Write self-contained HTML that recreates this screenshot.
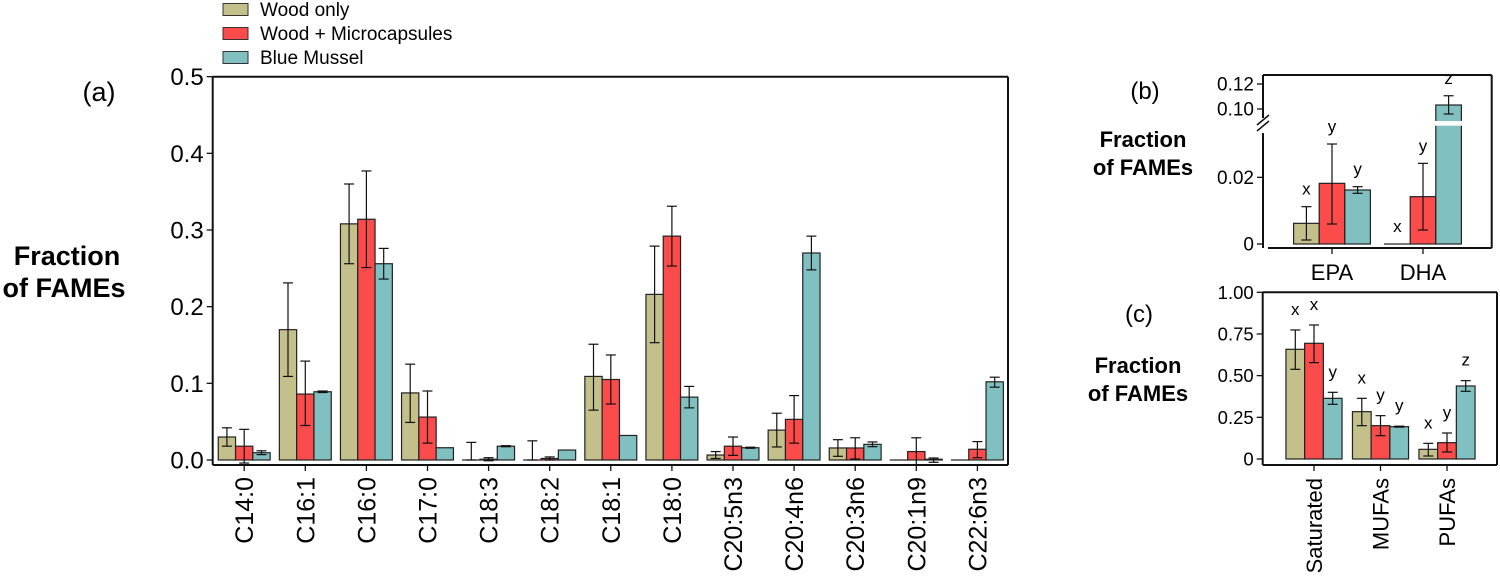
<!DOCTYPE html>
<html><head><meta charset="utf-8"><style>
html,body{margin:0;padding:0;background:#fff;}
svg{display:block;font-family:"Liberation Sans",Arial,sans-serif;}
</style></head><body>
<svg id="fig" width="1500" height="578" viewBox="0 0 1500 578">
<g>
 <rect x="223" y="3.5" width="25" height="12" fill="#c4c08c" stroke="#333"/>
 <text x="260" y="16" font-size="19">Wood only</text>
 <rect x="223" y="27.5" width="25" height="12" fill="#fb4b4b" stroke="#333"/>
 <text x="260" y="40" font-size="19">Wood + Microcapsules</text>
 <rect x="223" y="51.5" width="25" height="12" fill="#80c0c0" stroke="#333"/>
 <text x="260" y="64" font-size="19">Blue Mussel</text>
</g>
<text x="99" y="101" font-size="27" text-anchor="middle">(a)</text>
<text x="67" y="265" font-size="27" font-weight="bold" text-anchor="middle">Fraction</text>
<text x="64" y="297" font-size="27" font-weight="bold" text-anchor="middle">of FAMEs</text>
<text x="1145" y="99" font-size="24" text-anchor="middle">(b)</text>
<text x="1143" y="147" font-size="22" font-weight="bold" text-anchor="middle">Fraction</text>
<text x="1143" y="175" font-size="22" font-weight="bold" text-anchor="middle">of FAMEs</text>
<text x="1139" y="322" font-size="24" text-anchor="middle">(c)</text>
<text x="1138" y="373" font-size="22" font-weight="bold" text-anchor="middle">Fraction</text>
<text x="1138" y="401" font-size="22" font-weight="bold" text-anchor="middle">of FAMEs</text>
<g id="pa"></g>
<g id="pb"></g>
<g id="pc"></g>
</svg>
<script>
// Panel (a)
const catsA = ["C14:0","C16:1","C16:0","C17:0","C18:3","C18:2","C18:1","C18:0","C20:5n3","C20:4n6","C20:3n6","C20:1n9","C22:6n3"];
const woodA = [0.030,0.170,0.308,0.0875,0,0,0.109,0.216,0.0065,0.039,0.0157,0,0];
const woodAHi = [0.042,0.231,0.360,0.125,0.023,0.025,0.151,0.279,0.011,0.061,0.0265,0,0];
const woodALo = [0.018,0.109,0.256,0.049,0,0,0.065,0.153,0.002,0.017,0.0048,0,0];
const redA = [0.018,0.086,0.314,0.056,0.001,0.002,0.105,0.292,0.018,0.053,0.0157,0.011,0.014];
const redAHi = [0.040,0.129,0.377,0.090,0.003,0.004,0.137,0.331,0.030,0.084,0.029,0.029,0.024];
const redALo = [-0.004,0.045,0.251,0.022,-0.001,0,0.073,0.253,0.006,0.022,0.0013,-0.007,0.003];
const tealA = [0.0095,0.089,0.256,0.016,0.018,0.013,0.032,0.082,0.016,0.270,0.0204,0.001,0.102];
const tealAHi = [0.012,0.090,0.276,0.016,0.0187,0.013,0.032,0.096,0.0167,0.292,0.0235,0.0026,0.108];
const tealALo = [0.007,0.088,0.236,0.016,0.0173,0.013,0.032,0.068,0.0153,0.248,0.0174,-0.003,0.095];
const ticksA = [0,0.1,0.2,0.3,0.4,0.5];
const tickLabelsA = ["0.0","0.1","0.2","0.3","0.4","0.5"];
// Panel (b)
const catsB = ["EPA","DHA"];
const woodB = [0.0062,0];
const woodBHi = [0.0112,0];
const woodBLo = [0.0012,0];
const redB = [0.0182,0.0142];
const redBHi = [0.030,0.0242];
const redBLo = [0.006,0.0042];
const tealB = [0.0162,0.1032];
const tealBHi = [0.0172,0.1106];
const tealBLo = [0.0152,0.096];
const lettersB = [["x","y","y"],["x","y","z"]];
const ticksBLow = [0,0.02];
const tickLabelsBLow = ["0","0.02"];
const ticksBHigh = [0.10,0.12];
const tickLabelsBHigh = ["0.10","0.12"];
// Panel (c)
const catsC = ["Saturated","MUFAs","PUFAs"];
const woodC = [0.658,0.284,0.058];
const woodCHi = [0.774,0.364,0.094];
const woodCLo = [0.538,0.20,0.018];
const redC = [0.694,0.20,0.098];
const redCHi = [0.804,0.26,0.156];
const redCLo = [0.578,0.14,0.042];
const tealC = [0.364,0.194,0.438];
const tealCHi = [0.40,0.197,0.47];
const tealCLo = [0.328,0.191,0.406];
const lettersC = [["x","x","y"],["x","y","y"],["x","y","z"]];
const ticksC = [0,0.25,0.5,0.75,1.0];
const tickLabelsC = ["0","0.25","0.50","0.75","1.00"];

const NS="http://www.w3.org/2000/svg";
const COLORS=["#c4c08c","#fb4b4b","#80c0c0"];
const SNAMES=["wood-only","wood-microcapsules","blue-mussel"];
function mk(parent,tag,attrs,name){const e=document.createElementNS(NS,tag);for(const k in attrs)e.setAttribute(k,attrs[k]);


parent.appendChild(e);return e;}
function line(p,x1,y1,x2,y2,name,w){return mk(p,"line",{x1,y1,x2,y2,stroke:"#111","stroke-width":w||1.3},name);}
function txt(p,x,y,s,size,anchor,name,extra){const t=mk(p,"text",Object.assign({x,y,"font-size":size,"text-anchor":anchor||"middle"},extra||{}),name);t.textContent=s;return t;}
function errbar(p,x,yh,yl,name,cap){line(p,x,yh,x,yl,name+"-err",1.2);line(p,x-cap,yh,x+cap,yh,name+"-cap-hi",1.2);line(p,x-cap,yl,x+cap,yl,name+"-cap-lo",1.2);}

// ---- panel a
(function(){
 const g=document.getElementById("pa");
 const L=212.7,R=1008,T=76.7,B=465,y0=460,ppu=766.7;
 const y=v=>y0-v*ppu;
 const cx=i=>244.2+i*61.1;
 const bw=17.3;
 const series=[[woodA,woodAHi,woodALo],[redA,redAHi,redALo],[tealA,tealAHi,tealALo]];
 catsA.forEach((c,i)=>{
  series.forEach((s,k)=>{
   const x=cx(i)+(k-1)*bw;
   const v=s[0][i];
   const top=y(Math.max(v,0));
   const h=Math.max(y(0)-top,0);
   mk(g,"rect",{x:x-bw/2,y:top,width:bw,height:Math.max(h,0.01),fill:COLORS[k],stroke:"#222","stroke-width":1.2},"bar-"+SNAMES[k]+"-"+c);
   if(s[1][i]!==s[2][i]) errbar(g,x,y(s[1][i]),y(s[2][i]),"bar-"+SNAMES[k]+"-"+c,5);
  });
  line(g,cx(i),B,cx(i),B+6,"x-tick-"+c);
  txt(g,cx(i)+9,477,c,25,"end","x-label-"+c,{transform:`rotate(-90 ${cx(i)+9} 477)`});
 });
 line(g,L,T,L,B,"y-axis",2);
 line(g,L,B,R,B,"x-axis",2);
 line(g,L,T,R,T,"frame-top",2);
 line(g,R,T,R,B,"frame-right",2);
 ticksA.forEach((t,i)=>{line(g,L-6,y(t),L,y(t),"y-tick-"+tickLabelsA[i]);txt(g,L-9,y(t)+8.5,tickLabelsA[i],24,"end","y-tick-label-"+tickLabelsA[i]);});
})();

// ---- panel b (broken axis)
(function(){
 const g=document.getElementById("pb");
 const L=1263,R=1491.7,T=75,B=248;
 const y0=244,ppuLow=3333,brkY=127;
 const yHighRef=109,ppuHigh=1250;
 const y=v=>v<=0.035?y0-v*ppuLow:yHighRef-(v-0.10)*ppuHigh;
 const cx=i=>1332+i*91;
 const bw=25.6;
 const series=[[woodB,woodBHi,woodBLo],[redB,redBHi,redBLo],[tealB,tealBHi,tealBLo]];
 catsB.forEach((c,i)=>{
  series.forEach((s,k)=>{
   const x=cx(i)+(k-1)*bw;
   const v=s[0][i];
   const top=y(v);
   mk(g,"rect",{x:x-bw/2,y:top,width:bw,height:Math.max(y0-top,0.01),fill:COLORS[k],stroke:"#222","stroke-width":1.2},"bar-"+SNAMES[k]+"-"+c);
   if(v>0.035) mk(g,"rect",{x:x-bw/2-1,y:brkY-6,width:bw+2,height:4.7,fill:"#fff"},"axis-break-gap-"+c);
   if(s[1][i]!==s[2][i]) errbar(g,x,y(s[1][i]),y(s[2][i]),"bar-"+SNAMES[k]+"-"+c,5);
   txt(g,x-(k==0?0:0),y(Math.max(s[1][i],v))-12,lettersB[i][k],17,"middle","sig-letter-"+SNAMES[k]+"-"+c);
  });
  line(g,cx(i),B,cx(i),B+6,"x-tick-"+c);
  txt(g,cx(i),280,c,22,"middle","x-label-"+c);
 });
 line(g,L,T,L,brkY-9,"y-axis-upper",2);
 line(g,L,brkY+6,L,B,"y-axis-lower",2);
 line(g,L-6,brkY-2,L+6,brkY-12,"axis-break-mark-1",1.5);
 line(g,L-6,brkY+4,L+6,brkY-6,"axis-break-mark-2",1.5);
 line(g,L+5,B,R,B,"x-axis",2);
 line(g,L,T,R,T,"frame-top",2);
 line(g,R,T,R,B,"frame-right",2);
 ticksBLow.forEach((t,i)=>{line(g,L-6,y(t),L,y(t),"y-tick-"+tickLabelsBLow[i]);txt(g,L-9,y(t)+6.5,tickLabelsBLow[i],19,"end","y-tick-label-"+tickLabelsBLow[i]);});
 ticksBHigh.forEach((t,i)=>{line(g,L-6,y(t),L,y(t),"y-tick-"+tickLabelsBHigh[i]);txt(g,L-9,y(t)+6.5,tickLabelsBHigh[i],19,"end","y-tick-label-"+tickLabelsBHigh[i]);});
})();

// ---- panel c
(function(){
 const g=document.getElementById("pc");
 const L=1262.7,R=1497,T=292.3,B=465,y0=459,ppu=166.7;
 const y=v=>y0-v*ppu;
 const cx=i=>1314+i*66.5;
 const bw=18.7;
 const series=[[woodC,woodCHi,woodCLo],[redC,redCHi,redCLo],[tealC,tealCHi,tealCLo]];
 catsC.forEach((c,i)=>{
  series.forEach((s,k)=>{
   const x=cx(i)+(k-1)*bw;
   const v=s[0][i];
   mk(g,"rect",{x:x-bw/2,y:y(v),width:bw,height:y0-y(v),fill:COLORS[k],stroke:"#222","stroke-width":1.2},"bar-"+SNAMES[k]+"-"+c);
   errbar(g,x,y(s[1][i]),y(s[2][i]),"bar-"+SNAMES[k]+"-"+c,5);
   txt(g,x,y(s[1][i])-15,lettersC[i][k],17,"middle","sig-letter-"+SNAMES[k]+"-"+c);
  });
  line(g,cx(i),B,cx(i),B+6,"x-tick-"+c);
  txt(g,cx(i)+8,478,c,22,"end","x-label-"+c,{transform:`rotate(-90 ${cx(i)+8} 478)`});
 });
 line(g,L,T,L,B,"y-axis",2);
 line(g,L,B,R,B,"x-axis",2);
 line(g,L,T,R,T,"frame-top",2);
 line(g,R,T,R,B,"frame-right",2);
 ticksC.forEach((t,i)=>{line(g,L-6,y(t),L,y(t),"y-tick-"+tickLabelsC[i]);txt(g,L-9,y(t)+6.5,tickLabelsC[i],18.5,"end","y-tick-label-"+tickLabelsC[i]);});
})();
</script>
</body></html>
